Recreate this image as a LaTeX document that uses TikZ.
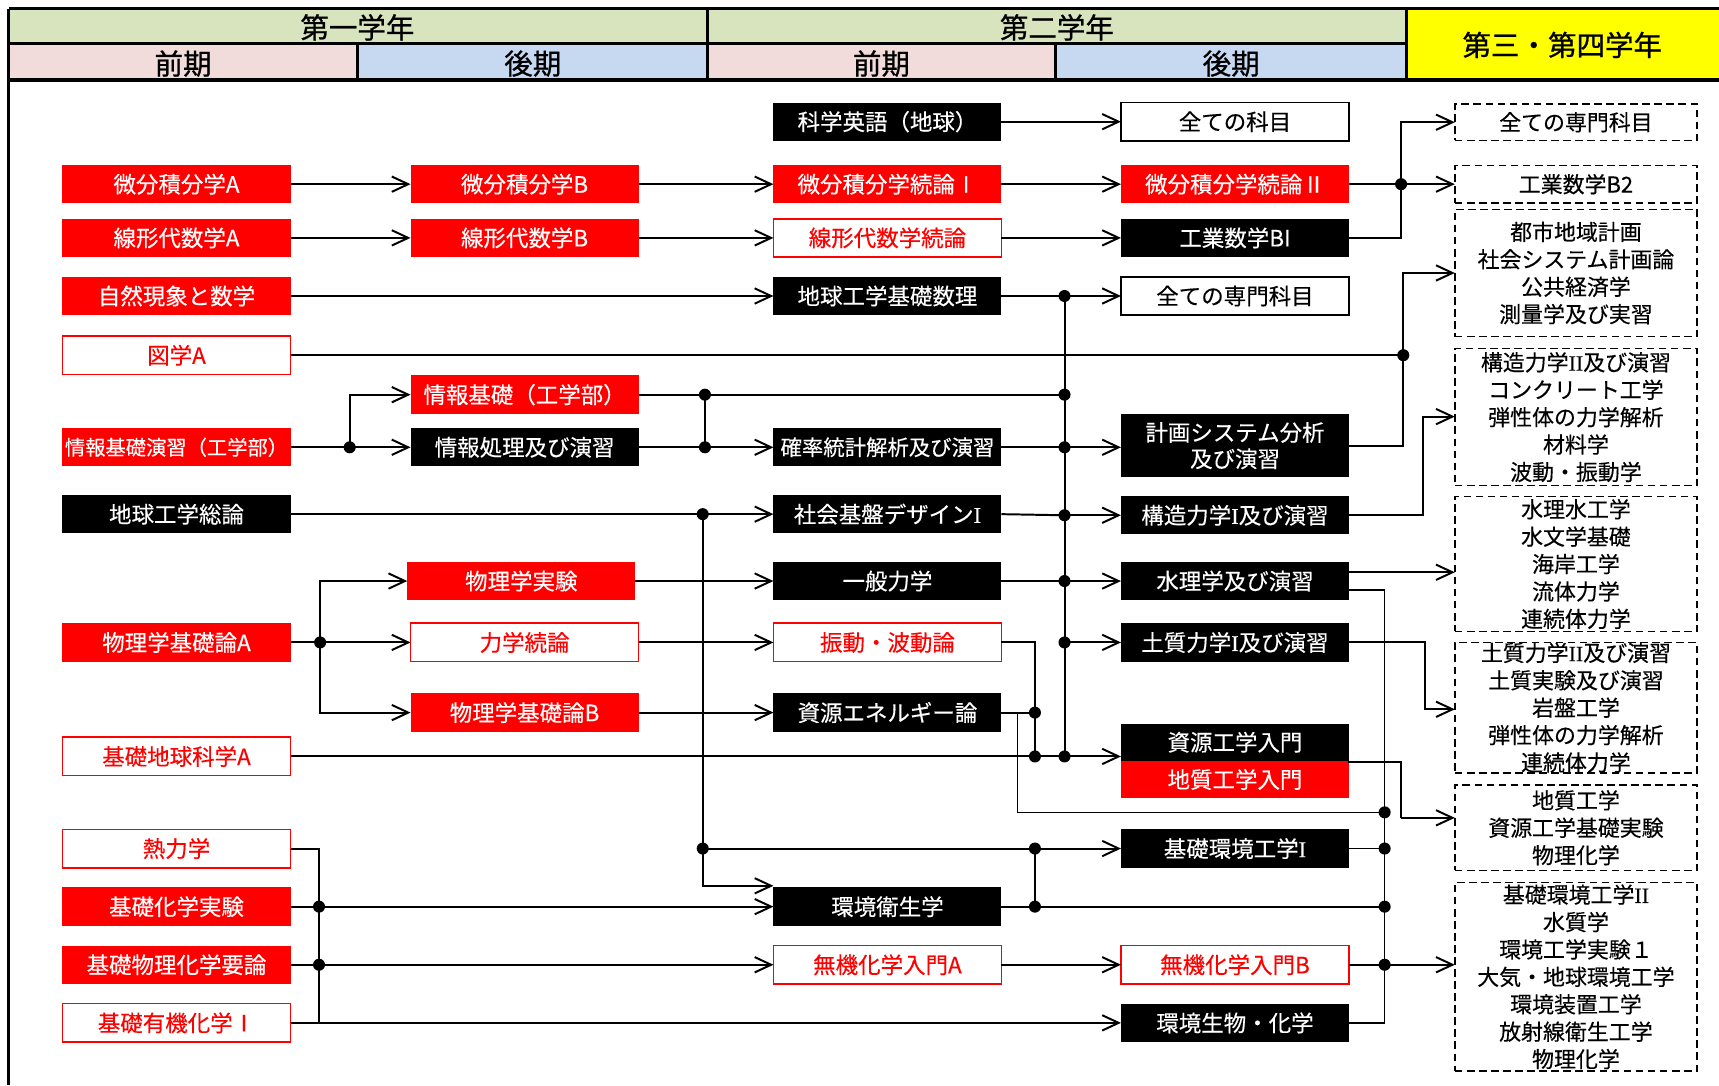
\documentclass[tikz,border=0pt]{standalone}
\usepackage{fontspec}
\setmainfont{Noto Sans CJK JP}[FakeBold=0.3]
\newfontfamily\hdrfont{Noto Sans CJK JP}[FakeBold=0.8]
\newfontfamily\latinserif{Liberation Serif}[FakeBold=0.3]
\usetikzlibrary{arrows.meta}
\newcommand{\romI}{{\latinserif I}}
\newcommand{\romII}{{\latinserif II}}
\definecolor{hdrgreen}{RGB}{215,228,189}
\definecolor{hdrpink}{RGB}{242,220,219}
\definecolor{hdrblue}{RGB}{198,217,241}
\definecolor{hdryellow}{RGB}{255,255,0}
\definecolor{boxred}{RGB}{255,0,0}
\begin{document}
\begin{tikzpicture}[x=1pt,y=-1pt,
  every node/.style={inner sep=0pt,outer sep=0pt},
  base/.style={minimum width=208pt,minimum height=35pt,font=\fontsize{20.5}{24}\selectfont,align=center},
  redfill/.style={base,fill=boxred,text=white},
  redline/.style={base,draw=boxred,line width=1.5pt,fill=white,text=boxred},
  blackfill/.style={base,fill=black,text=white},
  whitebox/.style={base,draw=black,line width=1.5pt,fill=white,text=black},
  dashbox/.style={draw=black,dash pattern=on 7pt off 4pt,line width=1.5pt,minimum width=221pt,font=\fontsize{20}{25}\selectfont,align=center},
  hdr/.style={font=\hdrfont\fontsize{26}{30}\selectfont},
  hdrline/.style={line width=2.6pt},
  conn/.style={line width=1.8pt},
  thinconn/.style={line width=1.3pt},
  arr/.style={conn,-{Straight Barb[length=15pt,width=14pt,line width=1.8pt]}},
  dot/.style={circle,fill=black,minimum size=11pt},
]
\useasboundingbox (0,0) rectangle (1568,990);
\fill[white] (0,0) rectangle (1568,990);

% ---------- header ----------
\fill[hdrgreen] (8,8) rectangle (1283,40);
\fill[hdrpink] (8,40) rectangle (326,73);
\fill[hdrblue] (326,40) rectangle (645,73);
\fill[hdrpink] (645,40) rectangle (963,73);
\fill[hdrblue] (963,40) rectangle (1283,73);
\fill[hdryellow] (1283,8) rectangle (1568,73);
\draw[hdrline] (8,8) -- (1568,8);
\draw[hdrline] (8,40) -- (1283,40);
\draw[line width=3pt] (8,73) -- (1568,73);
\draw[hdrline] (8,8) -- (8,990);
\draw[hdrline] (326,40) -- (326,73);
\draw[hdrline] (645,8) -- (645,73);
\draw[hdrline] (963,40) -- (963,73);
\draw[hdrline] (1283,8) -- (1283,73);
\node[hdr] (hY1) at (326,25) {第一学年};
\node[hdr] (hY2) at (964,25) {第二学年};
\node[hdr] (hY34) at (1425,41) {第三・第四学年};
\node[hdr] (hS1) at (167,58) {前期};
\node[hdr] (hS2) at (486,58) {後期};
\node[hdr] (hS3) at (804,58) {前期};
\node[hdr] (hS4) at (1123,58) {後期};

% ---------- column 1 ----------
\node[redfill] (bibunA) at (161,168) {微分積分学A};
\node[redfill] (senA) at (161,217) {線形代数学A};
\node[redfill] (shizen) at (161,270) {自然現象と数学};
\node[redline] (zugaku) at (161,324) {図学A};
\node[redfill,font=\fontsize{18.5}{22}\selectfont] (johoEn) at (161,408) {情報基礎演習（工学部）};
\node[blackfill] (soron) at (161,469) {地球工学総論};
\node[redfill] (butsuriA) at (161,586) {物理学基礎論A};
\node[redline] (chikyuA) at (161,690) {基礎地球科学A};
\node[redline] (netsu) at (161,774) {熱力学};
\node[redfill] (kagakuJikken) at (161,827) {基礎化学実験};
\node[redfill] (butsuriKagaku) at (161,880) {基礎物理化学要論};
\node[redline] (yuki) at (161,933) {基礎有機化学Ⅰ};

% ---------- column 2 ----------
\node[redfill] (bibunB) at (478.5,168) {微分積分学B};
\node[redfill] (senB) at (478.5,217) {線形代数学B};
\node[redfill] (johoKiso) at (478.5,360) {情報基礎（工学部）};
\node[blackfill] (johoShori) at (478.5,408) {情報処理及び演習};
\node[redfill] (jikken) at (475.5,530) {物理学実験};
\node[redline] (rikigaku) at (478.5,586) {力学続論};
\node[redfill] (butsuriB) at (478.5,650) {物理学基礎論B};

% ---------- column 3 ----------
\node[blackfill] (kagaku) at (809.5,111) {科学英語（地球）};
\node[redfill] (zoku1) at (809.5,168) {微分積分学続論Ⅰ};
\node[redline] (senZ) at (809.5,217) {線形代数学続論};
\node[blackfill] (kisosuuri) at (809.5,270) {地球工学基礎数理};
\node[blackfill,font=\fontsize{19.5}{24}\selectfont] (kakuritsu) at (809.5,408) {確率統計解析及び演習};
\node[blackfill] (shakai) at (809.5,469) {社会基盤デザイン\romI};
\node[blackfill] (ippan) at (809.5,530) {一般力学};
\node[redline] (shindo) at (809.5,586) {振動・波動論};
\node[blackfill] (shigenEne) at (809.5,650) {資源エネルギー論};
\node[blackfill] (eisei) at (809.5,827) {環境衛生学};
\node[redline] (mukiA) at (809.5,880) {無機化学入門A};

% ---------- column 4 ----------
\node[whitebox] (zenkamoku) at (1126.5,111) {全ての科目};
\node[redfill] (zoku2) at (1126.5,168) {微分積分学続論Ⅱ};
\node[blackfill] (kBI) at (1126.5,217) {工業数学BI};
\node[whitebox] (zensen4) at (1126.5,270) {全ての専門科目};
\node[blackfill,minimum height=57pt] (keikaku) at (1126.5,406.5) {計画システム分析\\及び演習};
\node[blackfill] (kozo1) at (1126.5,470) {構造力学\romI{}及び演習};
\node[blackfill] (suiri) at (1126.5,530) {水理学及び演習};
\node[blackfill] (doshitsu1) at (1126.5,586) {土質力学\romI{}及び演習};
\node[blackfill,minimum height=34pt] (shigenNyu) at (1126.5,677) {資源工学入門};
\node[redfill,minimum height=34pt] (chishitsu) at (1126.5,711) {地質工学入門};
\node[blackfill] (kisoKankyo1) at (1126.5,774) {基礎環境工学\romI};
\node[redline] (mukiB) at (1126.5,880) {無機化学入門B};
\node[blackfill] (seibutsu) at (1126.5,933) {環境生物・化学};

% ---------- column 5 (dashed) ----------
\node[dashbox,minimum height=33pt] (d1) at (1437.5,111.5) {全ての専門科目};
\node[dashbox,minimum height=34pt] (d2) at (1437.5,168) {工業数学B2};
\node[dashbox,minimum height=116pt] (d3) at (1437.5,249) {都市地域計画\\社会システム計画論\\公共経済学\\測量学及び実習};
\node[dashbox,minimum height=125pt] (d4) at (1437.5,380.5) {構造力学\romII{}及び演習\\コンクリート工学\\弾性体の力学解析\\材料学\\波動・振動学};
\node[dashbox,minimum height=123pt] (d5) at (1437.5,514.5) {水理水工学\\水文学基礎\\海岸工学\\流体力学\\連続体力学};
\node[dashbox,minimum height=119pt] (d6) at (1437.5,645.5) {土質力学\romII{}及び演習\\土質実験及び演習\\岩盤工学\\弾性体の力学解析\\連続体力学};
\node[dashbox,minimum height=78pt] (d7) at (1437.5,755) {地質工学\\資源工学基礎実験\\物理化学};
\node[dashbox,minimum height=172pt] (d8) at (1437.5,891) {基礎環境工学\romII\\水質学\\環境工学実験１\\大気・地球環境工学\\環境装置工学\\放射線衛生工学\\物理化学};

% ---------- bends ----------
\coordinate (b2) at (319,360);
\coordinate (b9a) at (292,530);
\coordinate (b9b) at (292,650);
\coordinate (b12) at (944,586);
\coordinate (b15a) at (928,650);
\coordinate (b15b) at (928,741);
\coordinate (b7) at (641,808);
\coordinate (b19a) at (291,774);
\coordinate (b19b) at (291,933);
\coordinate (s1) at (1230,522);
\coordinate (s2) at (1230,538);
\coordinate (b30b) at (1263,538);
\coordinate (b30a) at (1263,933);
\coordinate (b34a) at (1300,586);
\coordinate (b34b) at (1300,647);
\coordinate (s3) at (1230,695);
\coordinate (b35a) at (1278,695);
\coordinate (b35b) at (1278,746);
\coordinate (b36a) at (1298,470);
\coordinate (b36b) at (1298,380);
\coordinate (b37a) at (1280,406.5);
\coordinate (b37b) at (1280,249);
\coordinate (b38a) at (1278,217);
\coordinate (b38b) at (1278,111.5);

% ---------- connectors ----------
\draw[arr] (kagaku.east) -- (zenkamoku.west);
\draw[arr] (bibunA.east) -- (bibunB.west);
\draw[arr] (bibunB.east) -- (zoku1.west);
\draw[arr] (zoku1.east) -- (zoku2.west);
\draw[arr] (senA.east) -- (senB.west);
\draw[arr] (senB.east) -- (senZ.west);
\draw[arr] (senZ.east) -- (kBI.west);
\draw[arr] (shizen.east) -- (kisosuuri.west);

% bus at x=971
\draw[conn] (971,270) -- (971,690);
\draw[conn] (kisosuuri.east) -- (971,270);
\draw[arr] (971,270) -- (zensen4.west);

% zugaku
\draw[conn] (zugaku.east) -- (1280,324);

% joho
\draw[conn] (johoEn.east) -- (319,408);
\draw[arr] (319,408) -- (johoShori.west);
\draw[arr] (319,408) -- (b2) -- (johoKiso.west);
\draw[conn] (johoKiso.east) -- (971,360);
\draw[conn] (643,360) -- (643,408);
\draw[conn] (johoShori.east) -- (643,408);
\draw[arr] (643,408) -- (kakuritsu.west);
\draw[conn] (kakuritsu.east) -- (971,408);
\draw[arr] (971,408) -- (keikaku.west |- 971,408);

% soron
\draw[conn] (soron.east) -- (641,469);
\draw[arr] (641,469) -- (shakai.west);
\draw[conn] (shakai.east) -- (971,470);
\draw[arr] (971,470) -- (kozo1.west);
\draw[arr] (641,469) -- (b7) -- (b7 -| eisei.west);
\draw[conn] (641,774) -- (944,774);
\draw[arr] (944,774) -- (kisoKankyo1.west);
\draw[conn] (944,774) -- (944,827);

% physics
\draw[conn] (butsuriA.east) -- (292,586);
\draw[arr] (292,586) -- (rikigaku.west);
\draw[arr] (292,586) -- (b9a) -- (jikken.west);
\draw[arr] (292,586) -- (b9b) -- (butsuriB.west);
\draw[arr] (jikken.east) -- (ippan.west);
\draw[conn] (ippan.east) -- (971,530);
\draw[arr] (971,530) -- (suiri.west);
\draw[arr] (rikigaku.east) -- (shindo.west);
\draw[arr] (butsuriB.east) -- (shigenEne.west);
\draw[arr] (971,586) -- (doshitsu1.west);

% chikyuA
\draw[conn] (chikyuA.east) -- (971,690);
\draw[arr] (971,690) -- (shigenNyu.west |- 971,690);
\draw[conn] (shindo.east) -- (b12) -- (944,690);
\draw[conn] (shigenEne.east) -- (944,650);
\draw[thinconn] (b15a) -- (b15b) -- (1263,741);

% chemistry
\draw[conn] (netsu.east) -- (b19a) -- (b19b);
\draw[conn] (kagakuJikken.east) -- (291,827);
\draw[arr] (291,827) -- (eisei.west);
\draw[conn] (butsuriKagaku.east) -- (291,880);
\draw[arr] (291,880) -- (mukiA.west);
\draw[arr] (yuki.east) -- (seibutsu.west);
\draw[arr] (mukiA.east) -- (mukiB.west);
\draw[conn] (eisei.east) -- (1263,827);
\draw[thinconn] (kisoKankyo1.east) -- (1263,774);
\draw[conn] (mukiB.east) -- (1263,880);
\draw[arr] (1263,880) -- (d8.west |- 1263,880);
\draw[thinconn] (seibutsu.east) -- (b30a) -- (b30b) -- (s2);

% to year 3/4
\draw[arr] (s1) -- (s1 -| d5.west);
\draw[arr] (doshitsu1.east) -- (b34a) -- (b34b) -- (b34b -| d6.west);
\draw[thinconn] (s3) -- (b35a) -- (b35b);
\draw[arr] (b35b) -- (b35b -| d7.west);
\draw[arr] (kozo1.east) -- (b36a) -- (b36b) -- (b36b -| d4.west);
\draw[arr] (keikaku.east) -- (b37a) -- (b37b) -- (b37b -| d3.west);
\draw[arr] (kBI.east) -- (b38a) -- (b38b) -- (b38b -| d1.west);
\draw[conn] (zoku2.east) -- (1278,168);
\draw[arr] (1278,168) -- (d2.west);

% ---------- junction dots ----------
\node[dot] (j1) at (971,270) {};
\node[dot] (j4) at (971,360) {};
\node[dot] (j6) at (971,408) {};
\node[dot] (j8) at (971,470) {};
\node[dot] (j10) at (971,530) {};
\node[dot] (j11) at (971,586) {};
\node[dot] (j13) at (971,690) {};
\node[dot] (j2) at (319,408) {};
\node[dot] (j3) at (643,360) {};
\node[dot] (j5) at (643,408) {};
\node[dot] (j7) at (641,469) {};
\node[dot] (j16) at (641,774) {};
\node[dot] (j17) at (944,774) {};
\node[dot] (j18) at (944,827) {};
\node[dot] (j9) at (292,586) {};
\node[dot] (j12) at (944,690) {};
\node[dot] (j14) at (944,650) {};
\node[dot] (j19) at (291,827) {};
\node[dot] (j21) at (291,880) {};
\node[dot] (j15) at (1263,741) {};
\node[dot] (j23) at (1263,774) {};
\node[dot] (j22) at (1263,827) {};
\node[dot] (j24) at (1263,880) {};
\node[dot] (j20) at (1280,324) {};
\node[dot] (j25) at (1278,168) {};
\end{tikzpicture}
\end{document}
